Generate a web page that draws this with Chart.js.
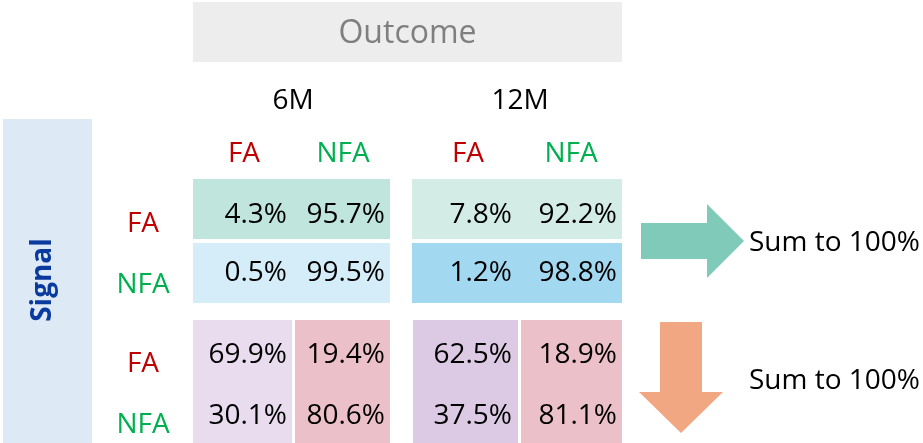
<!DOCTYPE html>
<html>
<head>
<meta charset="utf-8">
<script src="https://cdn.jsdelivr.net/npm/chart.js@4.4.1/dist/chart.umd.min.js"></script>
<style>
  html, body { margin: 0; padding: 0; background: #fff; }
  #c { display: block; }
</style>
</head>
<body>
<canvas id="c" width="923" height="443"></canvas>
<script>
// === DATA ===
const horizons = ['6M', '12M'];
const classes = ['FA', 'NFA'];
const outcomeTitle = 'Outcome';
const signalTitle = 'Signal';
const noteText = 'Sum to 100%';

// part de chaque ligne "signal" (somme des lignes = 100%)
const rowShare6M = [[4.3, 95.7], [0.5, 99.5]];
const rowShare12M = [[7.8, 92.2], [1.2, 98.8]];
// part de chaque colonne "outcome" (somme des colonnes = 100%)
const colShare6M = [[69.9, 19.4], [30.1, 80.6]];
const colShare12M = [[62.5, 18.9], [37.5, 81.1]];

// === LAYOUT (axis units) ===
const FONT = '"Open Sans", "DejaVu Sans", sans-serif';
const RED = '#c00000';
const GREEN = '#00b050';
const classColors = [RED, GREEN];

const layout = {
  outcomeBox: [193, 2, 622, 62],
  signalBox: [3, 119, 92, 443],
  blockX: [[193, 390], [412, 622]],
  bottomCols: [[[193, 292], [295, 390]], [[413, 518], [521, 622]]],
  topRows: [[179, 239], [243, 303]],
  bottomY: [320, 443],
  horizonX: [293, 520],
  headerX: [[244, 343], [468, 571]],
  valueRight: [[287, 385], [512, 617]],
  rowLabelX: 143,
  topBase: [223, 281],
  bottomBase: [363, 424],
  rowLabelTopBase: [232, 293],
  rowLabelBottomBase: [372, 433]
};

const topColors = [['#bfe5dc', '#d3ede6'], ['#d4edf8', '#a2d8f0']];      // [row][horizon]
const bottomColors = [['#e8dcee', '#ecc0c8'], ['#dccae4', '#ecc0c8']];   // [horizon][col]

function fmt(v) {
  return v.toFixed(1) + '%';
}

const tablePlugin = {
  id: 'tablePlugin',
  afterDraw(chart) {
    const ctx = chart.ctx;
    const xs = chart.scales.x;
    const ys = chart.scales.y;
    const px = v => xs.getPixelForValue(v);
    const py = v => ys.getPixelForValue(v);

    function rect(x0, y0, x1, y1, color) {
      ctx.fillStyle = color;
      ctx.fillRect(px(x0), py(y0), px(x1) - px(x0), py(y1) - py(y0));
    }
    function text(str, x, y, size, color, align, weight) {
      ctx.font = (weight || 'normal') + ' ' + size + 'px ' + FONT;
      ctx.fillStyle = color;
      ctx.textAlign = align || 'center';
      ctx.textBaseline = 'alphabetic';
      ctx.fillText(str, px(x), py(y));
    }
    function poly(points, color) {
      ctx.beginPath();
      points.forEach((p, i) => {
        if (i === 0) ctx.moveTo(px(p[0]), py(p[1]));
        else ctx.lineTo(px(p[0]), py(p[1]));
      });
      ctx.closePath();
      ctx.fillStyle = color;
      ctx.fill();
    }

    ctx.save();

    // Outcome
    const ob = layout.outcomeBox;
    rect(ob[0], ob[1], ob[2], ob[3], '#ededed');
    text(outcomeTitle, (ob[0] + ob[2]) / 2, 43, 32, '#7f7f7f');

    // Signal
    const sb = layout.signalBox;
    rect(sb[0], sb[1], sb[2], sb[3], '#dde9f4');
    ctx.save();
    ctx.translate(px(51), py(280));
    ctx.rotate(-Math.PI / 2);
    ctx.font = 'bold 28px ' + FONT;
    ctx.fillStyle = '#0b3a9e';
    ctx.textAlign = 'center';
    ctx.textBaseline = 'alphabetic';
    ctx.fillText(signalTitle, 0, 0);
    ctx.restore();

    // horizons + headers
    horizons.forEach((h, hi) => {
      text(h, layout.horizonX[hi], 109, 28, '#000');
      classes.forEach((c, ci) => {
        text(c, layout.headerX[hi][ci], 162, 28, classColors[ci]);
      });
    });

    // row labels
    classes.forEach((c, ci) => {
      text(c, layout.rowLabelX, layout.rowLabelTopBase[ci], 28, classColors[ci]);
      text(c, layout.rowLabelX, layout.rowLabelBottomBase[ci], 28, classColors[ci]);
    });

    // top table: row shares
    const rowShares = [rowShare6M, rowShare12M];
    horizons.forEach((h, hi) => {
      const bx = layout.blockX[hi];
      classes.forEach((r, ri) => {
        const ry = layout.topRows[ri];
        rect(bx[0], ry[0], bx[1], ry[1], topColors[ri][hi]);
        rowShares[hi][ri].forEach((v, ci) => {
          text(fmt(v), layout.valueRight[hi][ci], layout.topBase[ri], 28, '#000', 'right');
        });
      });
    });

    // bottom table: column shares
    const colShares = [colShare6M, colShare12M];
    horizons.forEach((h, hi) => {
      classes.forEach((c, ci) => {
        const cx = layout.bottomCols[hi][ci];
        rect(cx[0], layout.bottomY[0], cx[1], layout.bottomY[1], bottomColors[hi][ci]);
      });
      colShares[hi].forEach((row, ri) => {
        row.forEach((v, ci) => {
          text(fmt(v), layout.valueRight[hi][ci], layout.bottomBase[ri], 28, '#000', 'right');
        });
      });
    });

    // fleches
    poly([[641, 223], [707, 223], [707, 204], [744, 241], [707, 278], [707, 259], [641, 259]], '#7fcab9');
    poly([[660, 322], [702, 322], [702, 392], [723, 392], [681, 433], [639, 392], [660, 392]], '#f2a783');

    text(noteText, 749, 251, 28, '#000', 'left');
    text(noteText, 749, 389, 28, '#000', 'left');

    ctx.restore();
  }
};

const chart = new Chart(document.getElementById('c').getContext('2d'), {
  type: 'scatter',
  data: { datasets: [{ data: [], pointRadius: 0 }] },
  options: {
    responsive: false,
    animation: false,
    devicePixelRatio: 1,
    layout: { padding: 0 },
    plugins: { legend: { display: false }, tooltip: { enabled: false } },
    scales: {
      x: { type: 'linear', min: 0, max: 923, display: false },
      y: { type: 'linear', min: 0, max: 443, reverse: true, display: false }
    }
  },
  plugins: [tablePlugin]
});
</script>
</body>
</html>
